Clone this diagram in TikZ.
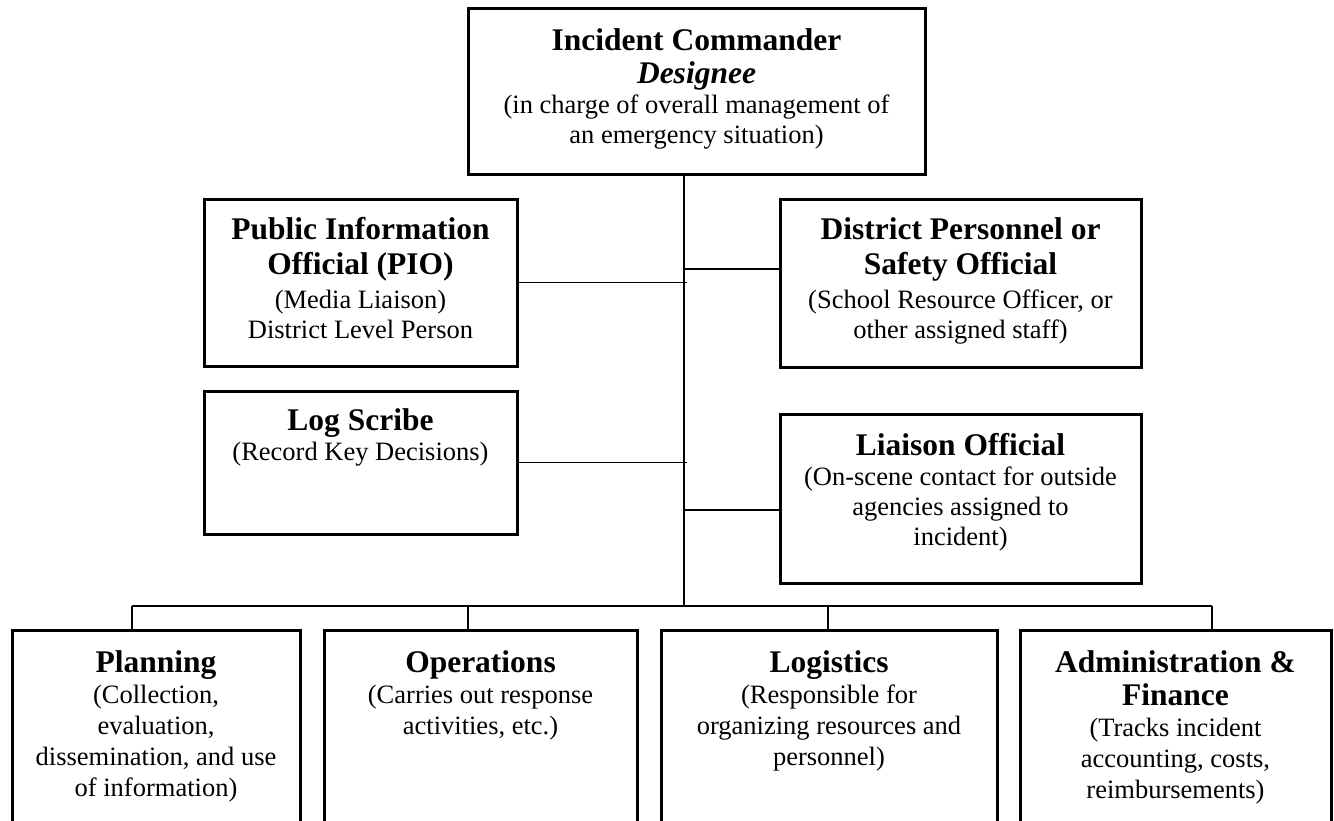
\documentclass[tikz,border=0pt]{standalone}
\usepackage{fontspec}
\setmainfont{Liberation Serif}
\usetikzlibrary{positioning}

\newcommand{\boxtitle}[1]{{\fontsize{31.5}{33}\selectfont\bfseries #1}}

\begin{document}
\begin{tikzpicture}[x=1pt, y=-1pt,
  box/.style={draw, line width=3pt, inner sep=0pt},
  txt/.style={align=center, inner sep=0pt, font=\fontsize{26.5}{30}\selectfont},
  lowtxt/.style={txt, font=\fontsize{26.5}{31}\selectfont},
  link/.style={line width=1.8pt}]
  \clip (0,0) rectangle (1334,820);

  % Boxes
  \node[box, minimum width=457, minimum height=166] (ic)  at (696.5,91) {};
  \node[box, minimum width=313, minimum height=167] (pio) at (360.5,282.5) {};
  \node[box, minimum width=361, minimum height=168] (dps) at (960.5,283) {};
  \node[box, minimum width=313, minimum height=143] (log) at (360.5,462.5) {};
  \node[box, minimum width=361, minimum height=169] (lia) at (960.5,498.5) {};
  \node[box, minimum width=288, minimum height=220] (pl)  at (156,740) {};
  \node[box, minimum width=313, minimum height=220] (op)  at (480.5,740) {};
  \node[box, minimum width=336, minimum height=220] (lg)  at (829,740) {};
  \node[box, minimum width=311, minimum height=220] (af)  at (1175.5,740) {};

  % Texts
  \node[txt, below=22pt of ic.north] (ic-t)
    {\boxtitle{Incident Commander}\\[3pt] \boxtitle{\itshape Designee}\\
     (in charge of overall management of\\ an emergency situation)};
  \node[txt, below=20pt of pio.north] (pio-t)
    {\boxtitle{Public Information}\\[5pt] \boxtitle{Official (PIO)}\\[4pt]
     (Media Liaison)\\ District Level Person};
  \node[txt, below=20pt of dps.north] (dps-t)
    {\boxtitle{District Personnel or}\\[5pt] \boxtitle{Safety Official}\\[4pt]
     (School Resource Officer, or\\ other assigned staff)};
  \node[txt, below=19pt of log.north] (log-t)
    {\boxtitle{Log Scribe}\\ (Record Key Decisions)};
  \node[txt, below=21pt of lia.north] (lia-t)
    {\boxtitle{Liaison Official}\\ (On-scene contact for outside\\
     agencies assigned to\\ incident)};
  \node[lowtxt, below=22pt of pl.north] (pl-t)
    {\boxtitle{Planning}\\ (Collection,\\ evaluation,\\
     dissemination, and use\\ of information)};
  \node[lowtxt, below=22pt of op.north] (op-t)
    {\boxtitle{Operations}\\ (Carries out response\\ activities, etc.)};
  \node[lowtxt, below=22pt of lg.north] (lg-t)
    {\boxtitle{Logistics}\\ (Responsible for\\ organizing resources and\\ personnel)};
  \node[lowtxt, below=22pt of af.north] (af-t)
    {\boxtitle{Administration \&}\\[2pt] \boxtitle{Finance}\\
     (Tracks incident\\ accounting, costs,\\ reimbursements)};

  % Spine and bus
  \coordinate (hub) at (684,606);
  \coordinate (bl) at (132,606);
  \coordinate (br) at (1212,606);
  \coordinate (b2) at (468,606);
  \coordinate (b3) at (828,606);
  \coordinate (j3) at (684,269);
  \coordinate (j4) at (684,510);

  \draw[link] (ic.south -| hub) -- (hub);
  \draw[link] (bl) -- (br);
  \draw[link] (bl) -- (bl |- pl.north);
  \draw[link] (b2) -- (b2 |- op.north);
  \draw[link] (b3) -- (b3 |- lg.north);
  \draw[link] (br) -- (br |- af.north);

  % Side links
  \draw[link] (pio.east) -- ([xshift=3pt]pio.east -| hub);
  \draw[link] (log.east) -- ([xshift=3pt]log.east -| hub);
  \draw[link] (j3) -- (j3 -| dps.west);
  \draw[link] (j4) -- (j4 -| lia.west);
\end{tikzpicture}
\end{document}
